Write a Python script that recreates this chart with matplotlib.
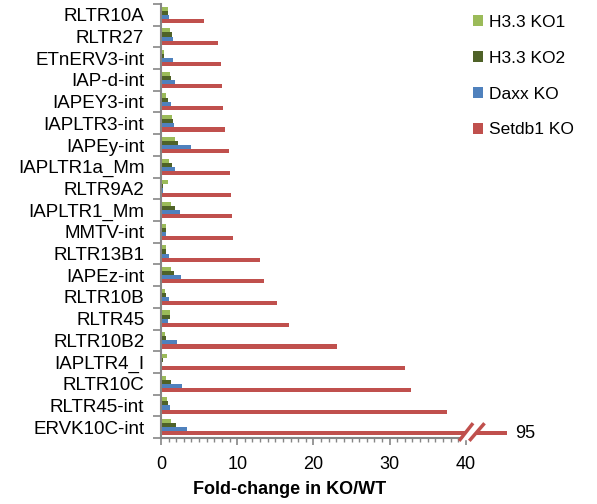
import matplotlib
matplotlib.use("Agg")
import matplotlib.pyplot as plt
import numpy as np

plt.rcParams['font.family'] = ['Liberation Sans', 'DejaVu Sans']

### repeat families, top to bottom as in the chart
repeats = ["RLTR10A", "RLTR27", "ETnERV3-int", "IAP-d-int", "IAPEY3-int",
           "IAPLTR3-int", "IAPEy-int", "IAPLTR1a_Mm", "RLTR9A2", "IAPLTR1_Mm",
           "MMTV-int", "RLTR13B1", "IAPEz-int", "RLTR10B", "RLTR45",
           "RLTR10B2", "IAPLTR4_I", "RLTR10C", "RLTR45-int", "ERVK10C-int"]

h33_ko1 = [0.87, 1.2, 0.35, 1.15, 0.65, 1.4, 1.9, 1.1, 0.96, 1.35,
           0.7, 0.65, 1.25, 0.55, 1.15, 0.55, 0.8, 0.7, 0.85, 1.3]
h33_ko2 = [0.96, 1.5, 0.35, 1.3, 0.95, 1.6, 2.2, 1.4, 0.3, 1.9,
           0.6, 0.6, 1.75, 0.65, 1.15, 0.65, 0.2, 1.25, 0.95, 2.0]
daxx_ko = [1.1, 1.6, 1.6, 1.8, 1.25, 1.7, 4.0, 1.85, 0.3, 2.55,
           0.7, 1.05, 2.6, 1.0, 0.9, 2.15, 0.0, 2.8, 1.2, 3.4]
setdb1_ko = [5.6, 7.5, 7.9, 8.0, 8.1, 8.45, 8.9, 9.0, 9.15, 9.3,
             9.4, 13.0, 13.45, 15.2, 16.75, 23.1, 32.0, 32.8, 37.5, 95]

series = [("H3.3 KO1", h33_ko1, "#9BBB59"),
          ("H3.3 KO2", h33_ko2, "#4F6228"),
          ("Daxx KO", daxx_ko, "#4F81BD"),
          ("Setdb1 KO", setdb1_ko, "#C0504D")]

axis_color = "#868686"

fig = plt.figure(figsize=(5.97, 5.04), dpi=100)
ax = fig.add_axes([161 / 597, 66 / 504, 346 / 597, 434 / 504])

y = np.arange(len(repeats))
bh = 0.19
for j, (name, vals, col) in enumerate(series):
    ax.barh(y + (j - 1.5) * bh, vals, height=bh, color=col, label=name,
            edgecolor="none", zorder=2)

ax.set_ylim(len(repeats) - 0.5, -0.5)
ax.set_xlim(0, 45.4)

ax.set_yticks(y)
ax.set_yticklabels(repeats, fontsize=13.5)
ax.set_yticks(np.arange(-0.5, len(repeats)), minor=True)
ax.tick_params(axis="y", which="major", length=0, pad=12)
ax.tick_params(axis="y", which="minor", length=6, color=axis_color, width=1.2)

ax.set_xticks(np.arange(0, 41, 10))
ax.set_xticks(np.arange(0, 41, 1), minor=True)
ax.tick_params(axis="x", which="major", length=5, color=axis_color, width=1.2,
               labelsize=13, pad=8)
ax.tick_params(axis="x", which="minor", length=3, color=axis_color, width=1)

for s in ["top", "right"]:
    ax.spines[s].set_visible(False)
for s in ["left", "bottom"]:
    ax.spines[s].set_color(axis_color)
    ax.spines[s].set_linewidth(1.5)
ax.spines["bottom"].set_bounds(0, 40)

ax.set_xlabel("Fold-change in KO/WT", fontsize=13, fontweight="bold")
ax.xaxis.set_label_coords(0.373, -0.1)

### axis break on the last bar
yb = len(repeats) - 1
ax.fill([39.6, 40.9, 42.1, 40.8], [yb + 0.57, yb - 0.12, yb - 0.12, yb + 0.57],
        color="white", zorder=3, clip_on=False)
ax.plot([39.25, 40.8], [yb + 0.57, yb - 0.12], color="#C0504D", lw=2.5,
        zorder=4, clip_on=False)
ax.plot([40.6, 42.3], [yb + 0.57, yb - 0.12], color="#C0504D", lw=2.5,
        zorder=4, clip_on=False)
ax.text(46.5, yb + 0.28, str(setdb1_ko[-1]), fontsize=13, va="center",
        ha="left", clip_on=False)

leg = ax.legend(loc="upper left", bbox_to_anchor=(466 / 597, 496 / 504),
                bbox_transform=fig.transFigure, frameon=False, fontsize=12.5,
                handlelength=0.6, handleheight=0.6, handletextpad=0.3,
                labelspacing=1.2, borderaxespad=0)

fig.savefig("out.png", dpi=100)
